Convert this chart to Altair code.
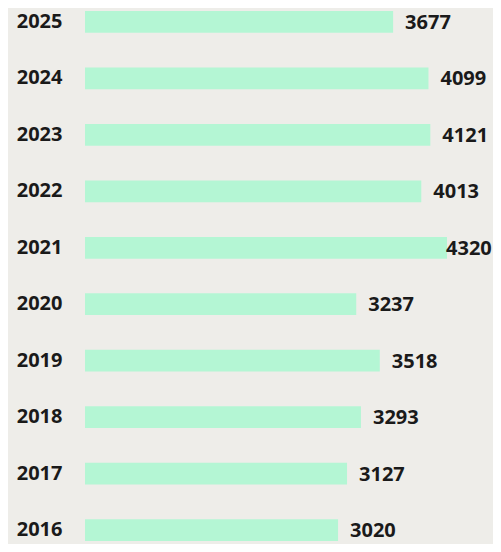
import altair as alt
import pandas as pd

years = ["2025", "2024", "2023", "2022", "2021", "2020", "2019", "2018", "2017", "2016"]
values = [3677, 4099, 4121, 4013, 4320, 3237, 3518, 3293, 3127, 3020]

df = pd.DataFrame({"year": years, "value": values})

BG = "#eeede9"
BAR = "#b4f6d4"
TXT = "#1a1a1a"
FONT = "Open Sans"

y_enc = alt.Y(
    "year:N",
    sort=years,
    scale=alt.Scale(paddingInner=0.615, paddingOuter=0),
    axis=alt.Axis(
        title=None, domain=False, ticks=False, grid=False,
        labelFont=FONT, labelFontSize=20, labelFontWeight="bold",
        labelColor=TXT, labelPadding=23,
    ),
)

x_scale = alt.Scale(domain=[0, 4320], nice=False, zero=True)

bars = alt.Chart(df).mark_bar(color=BAR).encode(
    x=alt.X("value:Q", scale=x_scale, axis=None),
    y=y_enc,
)

labels = alt.Chart(df).transform_calculate(
    pos="min(datum.value, 4165)"
).mark_text(
    align="left", baseline="middle", dx=12, dy=1,
    font=FONT, fontSize=20, fontWeight="bold", color=TXT,
).encode(
    x=alt.X("pos:Q", scale=x_scale, axis=None),
    y=alt.Y("year:N", sort=years),
    text=alt.Text("value:Q", format="d"),
)

chart = (
    alt.layer(bars, labels)
    .properties(
        width=362,
        height=530,
        autosize=alt.AutoSizeParams(type="none"),
        padding={"left": 77, "top": 3, "right": 46, "bottom": 3},
        background=BG,
    )
    .configure_view(stroke=None)
)

chart.save("out.html", embed_options={"renderer": "svg", "actions": False})
